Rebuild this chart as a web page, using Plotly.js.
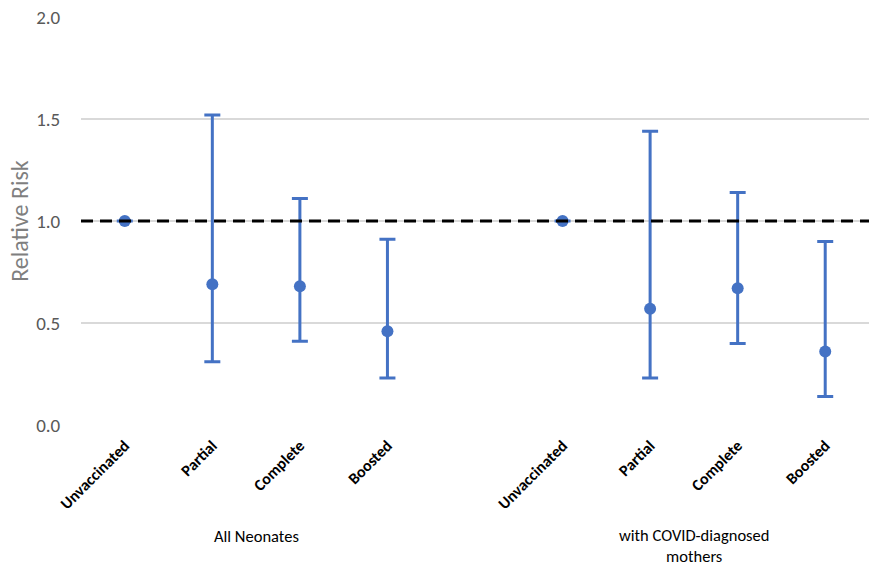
<!DOCTYPE html>
<html>
<head>
<meta charset="utf-8">
<script src="https://cdn.plot.ly/plotly-3.0.1.min.js"></script>
<style>html,body{margin:0;padding:0;background:#fff;}#chart{width:878px;height:565px;}</style>
</head>
<body>
<div id="chart"></div>
<script>
// Data
const categories = ["Unvaccinated", "Partial", "Complete", "Boosted"];
const groups = ["All Neonates", "with COVID-diagnosed<br>mothers"];
const allNeonatesRR = [1.0, 0.69, 0.68, 0.46];
const allNeonatesLow = [1.0, 0.31, 0.41, 0.23];
const allNeonatesHigh = [1.0, 1.52, 1.11, 0.91];
const covidMothersRR = [1.0, 0.57, 0.67, 0.36];
const covidMothersLow = [1.0, 0.23, 0.40, 0.14];
const covidMothersHigh = [1.0, 1.44, 1.14, 0.90];
const referenceLine = 1.0;

// Build positions: group 1 at slots 0-3, empty slot 4, group 2 at slots 5-8
const xs = [], ys = [], eplus = [], eminus = [], tickvals = [], ticktext = [];
function addGroup(offset, rr, lo, hi) {
  categories.forEach((c, i) => {
    xs.push(offset + i);
    ys.push(rr[i]);
    eplus.push(hi[i] - rr[i]);
    eminus.push(rr[i] - lo[i]);
    tickvals.push(offset + i);
    ticktext.push('<b>' + c + '</b>');
  });
}
addGroup(0, allNeonatesRR, allNeonatesLow, allNeonatesHigh);
addGroup(5, covidMothersRR, covidMothersLow, covidMothersHigh);

const blue = '#4472C4';
const trace = {
  type: 'scatter', mode: 'markers',
  x: xs, y: ys,
  marker: {color: blue, size: 12},
  error_y: {type: 'data', symmetric: false, array: eplus, arrayminus: eminus,
            color: blue, thickness: 3, width: 8},
  hoverinfo: 'x+y'
};

const font = "Calibri, Carlito, Lato, 'Open Sans', sans-serif";
const layout = {
  width: 878, height: 565,
  margin: {l: 81, r: 9, t: 17, b: 140},
  paper_bgcolor: '#fff', plot_bgcolor: '#fff',
  showlegend: false,
  font: {family: font, color: '#000'},
  xaxis: {
    range: [-0.5, 8.5], tickvals: tickvals, ticktext: ticktext,
    tickangle: -45, tickfont: {size: 16, color: '#000', family: font},
    showgrid: false, zeroline: false, showline: false,
    ticks: 'outside', ticklen: 4, tickcolor: 'rgba(0,0,0,0)'
  },
  yaxis: {
    range: [0, 2.0], dtick: 0.5, tickformat: '.1f',
    tickfont: {size: 19, color: '#595959', family: font},
    gridcolor: '#d9d9d9', gridwidth: 1.5, zeroline: false, showline: false,
    ticks: 'outside', ticklen: 16, tickcolor: 'rgba(0,0,0,0)',
    title: {text: 'Relative Risk', font: {size: 24, color: '#7f7f7f', family: font}, standoff: 0}
  },
  shapes: [{
    type: 'line', xref: 'paper', x0: 0, x1: 1, yref: 'y', y0: referenceLine, y1: referenceLine,
    line: {color: '#000', width: 3, dash: '12px,7px'}, layer: 'above'
  }],
  annotations: [
    {text: groups[0], x: 1.5, xref: 'x', y: 0, yref: 'paper', yshift: -99, yanchor: 'top', showarrow: false,
     font: {size: 16.5, color: '#000', family: font}},
    {text: groups[1], x: 6.5, xref: 'x', y: 0, yref: 'paper', yshift: -98, yanchor: 'top', showarrow: false,
     font: {size: 16.5, color: '#000', family: font}}
  ]
};
Plotly.newPlot('chart', [trace], layout, {displayModeBar: false, staticPlot: true});
</script>
</body>
</html>
